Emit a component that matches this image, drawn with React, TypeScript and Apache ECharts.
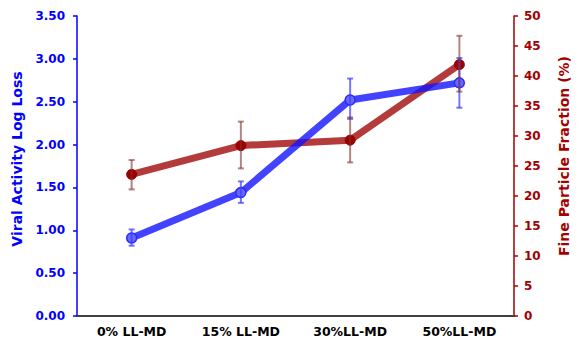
import React, { useEffect, useRef } from "react";
import * as echarts from "echarts";

const categories = ["0% LL-MD", "15% LL-MD", "30%LL-MD", "50%LL-MD"];
const viralLogLoss = [0.91, 1.44, 2.52, 2.72];
const viralErrLow = [0.82, 1.32, 2.3, 2.43];
const viralErrHigh = [1.01, 1.57, 2.77, 3.01];
const fineFraction = [23.6, 28.4, 29.3, 41.9];
const fineErrLow = [21.1, 24.6, 25.6, 37.4];
const fineErrHigh = [26.0, 32.4, 33.1, 46.7];

const BLUE = "#0000FF";
const RED = "#A50000";
const FONT = "DejaVu Sans";

function errorSeries(name: string, low: number[], high: number[], yAxisIndex: number, color: string) {
  return {
    name,
    type: "custom",
    yAxisIndex,
    z: 3,
    data: low.map((l, i) => [i, l, high[i]]),
    renderItem: (params: any, api: any) => {
      const lo = api.coord([api.value(0), api.value(1)]);
      const hi = api.coord([api.value(0), api.value(2)]);
      const w = 3;
      const style = { stroke: color, lineWidth: 2 };
      return {
        type: "group",
        children: [
          { type: "line", shape: { x1: lo[0], y1: lo[1], x2: hi[0], y2: hi[1] }, style },
          { type: "line", shape: { x1: lo[0] - w, y1: lo[1], x2: lo[0] + w, y2: lo[1] }, style },
          { type: "line", shape: { x1: hi[0] - w, y1: hi[1], x2: hi[0] + w, y2: hi[1] }, style },
        ],
      };
    },
  };
}

export default function App() {
  const ref = useRef<HTMLDivElement>(null);
  useEffect(() => {
    if (!ref.current) return;
    const chart = echarts.init(ref.current, undefined, { renderer: "svg" });
    chart.setOption({
      animation: false,
      backgroundColor: "#ffffff",
      grid: { left: 77, right: 56, top: 16, bottom: 26, containLabel: false },
      xAxis: {
        type: "category",
        data: categories,
        boundaryGap: true,
        axisLine: { lineStyle: { color: "#404040", width: 2 } },
        axisTick: { show: false },
        axisLabel: { color: "#000000", fontWeight: "bold", fontSize: 12.5, fontFamily: FONT, margin: 9 },
        splitLine: { show: false },
      },
      yAxis: [
        {
          type: "value",
          min: 0,
          max: 3.5,
          interval: 0.5,
          position: "left",
          name: "Viral Activity Log Loss",
          nameLocation: "middle",
          nameRotate: 90,
          nameGap: 52,
          nameTextStyle: { color: BLUE, fontWeight: "bold", fontSize: 14, fontFamily: FONT, padding: [0, 0, 0, 14] },
          axisLine: { show: true, lineStyle: { color: BLUE, width: 1.5 } },
          axisTick: { show: true, inside: false, length: 4, lineStyle: { color: BLUE, width: 1.5 } },
          axisLabel: {
            color: BLUE,
            fontWeight: "bold",
            fontSize: 12,
            fontFamily: FONT,
            margin: 12,
            formatter: (v: number) => v.toFixed(2),
          },
          splitLine: { show: false },
        },
        {
          type: "value",
          min: 0,
          max: 50,
          interval: 5,
          position: "right",
          name: "Fine Particle Fraction (%)",
          nameLocation: "middle",
          nameRotate: 90,
          nameGap: 43,
          nameTextStyle: { color: RED, fontWeight: "bold", fontSize: 14, fontFamily: FONT, padding: [0, 0, 0, 20] },
          axisLine: { show: true, lineStyle: { color: RED, width: 1.5 } },
          axisTick: { show: true, inside: false, length: 4, lineStyle: { color: RED, width: 1.5 } },
          axisLabel: { color: RED, fontWeight: "bold", fontSize: 12, fontFamily: FONT, margin: 10 },
          splitLine: { show: false },
        },
      ],
      series: [
        {
          name: "Fine Particle Fraction",
          type: "line",
          yAxisIndex: 1,
          data: fineFraction,
          z: 2,
          lineStyle: { color: "rgba(160,10,10,0.8)", width: 7 },
          symbol: "circle",
          symbolSize: 10,
          itemStyle: { color: "#9B0000", borderColor: "#9B0000", borderWidth: 1 },
        },
        {
          name: "Viral Activity",
          type: "line",
          yAxisIndex: 0,
          data: viralLogLoss,
          z: 2,
          lineStyle: { color: "rgba(20,20,255,0.8)", width: 7 },
          symbol: "circle",
          symbolSize: 10,
          itemStyle: { color: "#6A6AFF", borderColor: "#2A2AFF", borderWidth: 1.5 },
        },
        errorSeries("Viral error", viralErrLow, viralErrHigh, 0, "rgba(60,60,255,0.7)"),
        errorSeries("Fine error", fineErrLow, fineErrHigh, 1, "rgba(130,50,50,0.6)"),
      ],
    });
    return () => chart.dispose();
  }, []);
  return <div ref={ref} style={{ width: 579, height: 342, position: "absolute", left: 0, top: 0 }} />;
}
